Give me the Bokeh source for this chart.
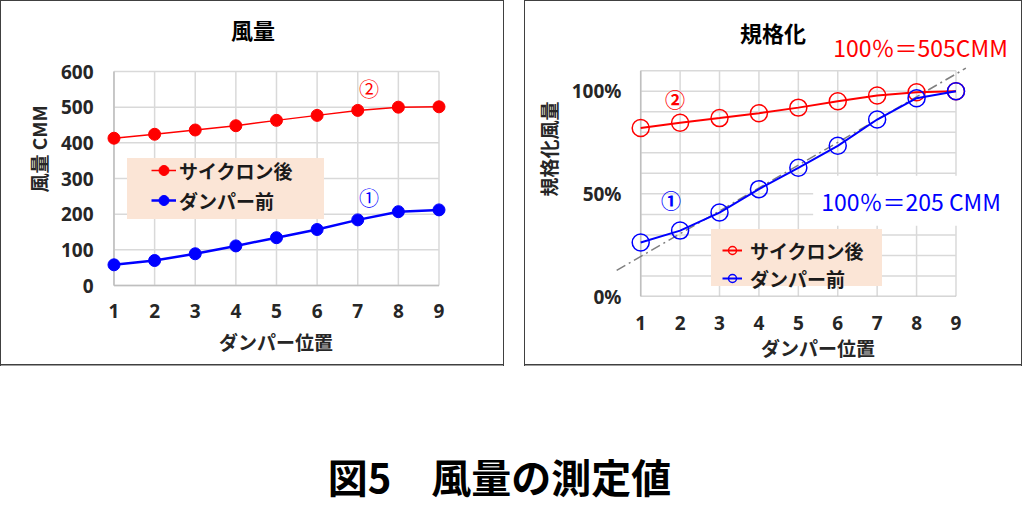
from bokeh.plotting import figure
from bokeh.models import (Range1d, FixedTicker, Label, BoxAnnotation, Legend,
                          LegendItem, PrintfTickFormatter, Spacer)
from bokeh.layouts import row, column
from bokeh.embed import file_html
from bokeh.resources import INLINE

# ---------------- data ----------------
positions = [1, 2, 3, 4, 5, 6, 7, 8, 9]                       # ダンパー位置
cyclone_after = [413, 424, 436, 448, 463, 477, 491, 500, 501]  # サイクロン後 (CMM)
damper_before = [58, 70, 89, 111, 134, 157, 184, 207, 212]     # ダンパー前 (CMM)
norm_cyclone_pct = [82.1, 84.6, 86.9, 89.3, 92.0, 95.1, 97.9, 99.5, 100.0]
norm_damper_pct = [26.3, 32.1, 40.9, 52.3, 62.7, 73.4, 86.2, 96.6, 100.0]
trend_x = [0.39, 9.25]
trend_y = [12.7, 111.2]
flow_ticks = [0, 100, 200, 300, 400, 500, 600]
pct_ticks = [0, 50, 100]
pct_grid = [0, 10, 20, 30, 40, 50, 60, 70, 80, 90, 100, 110]
series_names = ["サイクロン後", "ダンパー前"]

JP = "Noto Sans CJK JP"
NUM = "Noto Sans"
RED = "#FF0000"
BLUE = "#0000FF"
GRID = "#D9D9D9"
AXISC = "#BFBFBF"
TXT = "#262626"
LEG_BG = "#FBE5D6"
CANVAS_H = 400   # canvas height; only the top 366px are shown as the panel
FRAME_H = 295    # both plot frames share the same height (row aligns them)
# panel frame: 366px tall visible box (bottom edge drawn as a background stripe)
PANEL = {"border": "1.5px solid #404040",
         "clip-path": "inset(0px 0px 34px 0px)",
         "background": "linear-gradient(#404040, #404040) 0px 363px / 100% 1.5px no-repeat, #ffffff"}


def style_axes(p):
    for ax in (p.xaxis[0], p.yaxis[0]):
        ax.axis_line_color = None
        ax.major_tick_line_color = None
        ax.minor_tick_line_color = None
        ax.major_tick_out = 0
        ax.major_tick_in = 0
        ax.major_label_text_font = NUM
        ax.major_label_text_font_size = "19px"
        ax.major_label_text_font_style = "bold"
        ax.major_label_text_color = TXT
        ax.axis_label_text_font = JP
        ax.axis_label_text_font_size = "19px"
        ax.axis_label_text_font_style = "bold"
        ax.axis_label_text_color = TXT


def style_legend(lg):
    lg.background_fill_alpha = 0
    lg.border_line_color = None
    lg.padding = 5
    lg.margin = 0
    lg.spacing = 0
    lg.label_text_font = JP
    lg.label_text_font_size = "19px"
    lg.label_text_font_style = "bold"
    lg.label_text_color = "#1a1a1a"


def draw_grid(p, xs, ys):
    nx, ny = len(xs), len(ys)
    p.segment(x0=xs, y0=[ys[0]] * nx, x1=xs, y1=[ys[-1]] * nx,
              line_color=GRID, line_width=1.5)
    p.segment(x0=[xs[0]] * ny, y0=ys, x1=[xs[-1]] * ny, y1=ys,
              line_color=GRID, line_width=1.5)
    p.segment(x0=[xs[0], xs[0]], y0=[ys[0], ys[0]], x1=[xs[0], xs[-1]],
              y1=[ys[-1], ys[0]], line_color=AXISC, line_width=1.5)


# ---------------- left: 風量 ----------------
p1 = figure(width=504, height=CANVAS_H, x_range=Range1d(0.742, 9.234),
            y_range=Range1d(-30.84, 796.3), output_backend="svg", toolbar_location=None,
            min_border_left=102, min_border_right=57, min_border_top=0,
            min_border_bottom=CANVAS_H - FRAME_H)
p1.styles = PANEL
p1.border_fill_color = None
p1.outline_line_color = None
p1.grid.visible = False
style_axes(p1)
p1.xaxis.ticker = FixedTicker(ticks=positions)
p1.yaxis.ticker = FixedTicker(ticks=flow_ticks)
p1.xaxis.axis_label = "ダンパー位置"
p1.yaxis.axis_label = "風量 CMM"
p1.xaxis.major_label_standoff = 7
p1.xaxis.axis_label_standoff = 7
p1.yaxis.major_label_standoff = 10
p1.yaxis.axis_label_standoff = 6

draw_grid(p1, positions, flow_ticks)

p1.add_layout(BoxAnnotation(left=23.5, right=220.5, bottom=77.5, top=138.5,
                            left_units="screen", right_units="screen",
                            bottom_units="screen", top_units="screen",
                            fill_color=LEG_BG, fill_alpha=1, line_color=None))

a_l = p1.line(positions, cyclone_after, line_color=RED, line_width=1.5)
a_s = p1.scatter(positions, cyclone_after, size=12, fill_color=RED, line_color=RED)
b_l = p1.line(positions, damper_before, line_color=BLUE, line_width=2.5)
b_s = p1.scatter(positions, damper_before, size=12, fill_color=BLUE, line_color=BLUE)

lg1 = Legend(items=[LegendItem(label=series_names[0], renderers=[a_l, a_s]),
                    LegendItem(label=series_names[1], renderers=[b_l, b_s])],
             location=(48, 81))
style_legend(lg1)
lg1.glyph_width = 25
lg1.glyph_height = 30
lg1.label_height = 30
lg1.label_standoff = 3
p1.add_layout(lg1)

p1.add_layout(Label(x=4.42, y=719, text="風量", text_color="#000000", text_font=JP,
                    text_font_size="22px", text_font_style="bold",
                    text_align="center", text_baseline="middle"))
p1.add_layout(Label(x=7.28, y=551, text="②", text_color=RED, text_font=JP,
                    text_font_size="20px", text_align="center", text_baseline="middle"))
p1.add_layout(Label(x=7.28, y=248, text="①", text_color=BLUE, text_font=JP,
                    text_font_size="20px", text_align="center", text_baseline="middle"))

# ---------------- right: 規格化 ----------------
p2 = figure(width=498, height=CANVAS_H, x_range=Range1d(0.3606, 10.637),
            y_range=Range1d(0, 143.7), output_backend="svg", toolbar_location=None,
            min_border_left=90, min_border_right=3, min_border_top=0,
            min_border_bottom=CANVAS_H - FRAME_H)
p2.styles = PANEL
p2.border_fill_color = None
p2.outline_line_color = None
p2.grid.visible = False
style_axes(p2)
p2.xaxis.ticker = FixedTicker(ticks=positions)
p2.yaxis.ticker = FixedTicker(ticks=pct_ticks)
p2.yaxis.formatter = PrintfTickFormatter(format="%d%%")
p2.xaxis.axis_label = "ダンパー位置"
p2.yaxis.axis_label = "規格化風量"
p2.xaxis.major_label_standoff = 19
p2.xaxis.axis_label_standoff = 1
p2.yaxis.major_label_standoff = -6
p2.yaxis.axis_label_standoff = 7

draw_grid(p2, positions, pct_grid)

p2.add_layout(BoxAnnotation(left=95.5, right=266.5, bottom=10.5, top=67.5,
                            left_units="screen", right_units="screen",
                            bottom_units="screen", top_units="screen",
                            fill_color=LEG_BG, fill_alpha=1, line_color=None))

p2.line(trend_x, trend_y, line_color="#7F7F7F", line_width=1.5, line_dash="10 4 2 4")
c_l = p2.line(positions, norm_cyclone_pct, line_color=RED, line_width=2)
c_s = p2.scatter(positions, norm_cyclone_pct, size=17, fill_color=None,
                 line_color=RED, line_width=1.5)
d_l = p2.line(positions, norm_damper_pct, line_color=BLUE, line_width=2)
d_s = p2.scatter(positions, norm_damper_pct, size=17, fill_color=None,
                 line_color=BLUE, line_width=1.5)

lg2 = Legend(items=[LegendItem(label=series_names[0], renderers=[c_l, c_s]),
                    LegendItem(label=series_names[1], renderers=[d_l, d_s])],
             location=(107, 4))
style_legend(lg2)
lg2.glyph_width = 20
lg2.glyph_height = 28
lg2.label_height = 28
lg2.label_standoff = 8
p2.add_layout(lg2)

p2.add_layout(Label(x=4.357, y=128.8, text="規格化", text_color="#000000", text_font=JP,
                    text_font_size="22px", text_font_style="bold",
                    text_align="center", text_baseline="middle"))
p2.add_layout(Label(x=8.10, y=121.5, text="100％＝505CMM", text_color=RED, text_font=JP,
                    text_font_size="23px", text_align="center", text_baseline="middle"))
p2.add_layout(Label(x=7.86, y=46.7, text="100％＝205 CMM", text_color=BLUE, text_font=JP,
                    text_font_size="23px", text_align="center", text_baseline="middle",
                    background_fill_color="white", background_fill_alpha=1, padding=8))
p2.add_layout(Label(x=1.87, y=96.2, text="②", text_color=RED, text_font=JP,
                    text_font_size="20px", text_font_style="bold",
                    text_align="center", text_baseline="middle"))
p2.add_layout(Label(x=1.77, y=47, text="①", text_color=BLUE, text_font=JP,
                    text_font_size="20px", text_font_style="bold",
                    text_align="center", text_baseline="middle"))

# ---------------- caption ----------------
p3 = figure(width=998, height=531 - CANVAS_H, x_axis_type=None, y_axis_type=None,
            output_backend="svg", toolbar_location=None,
            min_border_left=0, min_border_right=0, min_border_top=509 - CANVAS_H,
            min_border_bottom=0)
p3.outline_line_color = None
p3.grid.visible = False
p3.title.text = "図5　風量の測定値"
p3.title.align = "center"
p3.title.text_font = JP
p3.title.text_font_size = "40px"
p3.title.text_font_style = "bold"
p3.title.text_color = "#000000"

layout = column(row(p1, Spacer(width=20, height=CANVAS_H), p2), p3)
open("out.html", "w").write(file_html(layout, INLINE))
